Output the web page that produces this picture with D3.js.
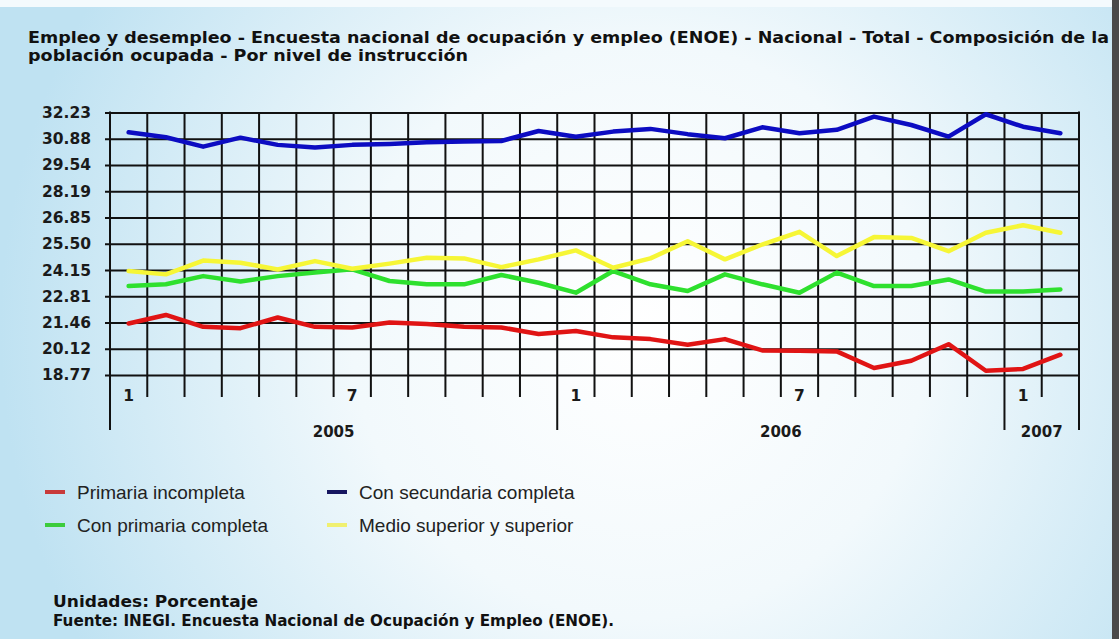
<!DOCTYPE html>
<html><head><meta charset="utf-8">
<script src="https://cdn.jsdelivr.net/npm/d3@7"></script>
<style>html,body{margin:0;padding:0;overflow:hidden;background:#fff;} svg{display:block;}</style>
</head><body>
<svg id="chart" width="1119" height="639"></svg>
<script>
// ---- data ----
const months = ["1","2","3","4","5","6","7","8","9","10","11","12",
                "1","2","3","4","5","6","7","8","9","10","11","12",
                "1","2"];
const years = ["2005","2006","2007"];
const yearStart = [0, 12, 24];
const yearEnd = [11, 23, 25];
const yTicks = [18.77, 20.12, 21.46, 22.81, 24.15, 25.50, 26.85, 28.19, 29.54, 30.88, 32.23];

const primariaIncompleta = [21.41,21.85,21.24,21.17,21.72,21.24,21.21,21.46,21.38,21.24,21.21,20.87,21.03,20.70,20.61,20.32,20.61,20.03,20.01,19.98,19.13,19.50,20.35,18.99,19.08,19.81];
const conPrimaria = [23.33,23.42,23.84,23.56,23.84,24.02,24.19,23.59,23.42,23.42,23.90,23.50,22.99,24.10,23.42,23.08,23.93,23.42,22.99,24.02,23.33,23.33,23.67,23.05,23.05,23.16];
const conSecundaria = [31.22,30.96,30.48,30.94,30.57,30.43,30.57,30.62,30.71,30.74,30.77,31.28,30.99,31.25,31.39,31.12,30.91,31.47,31.17,31.34,32.02,31.59,30.99,32.14,31.50,31.17];
const medioSuperior = [24.10,23.93,24.64,24.53,24.18,24.61,24.22,24.48,24.78,24.75,24.30,24.70,25.16,24.27,24.75,25.63,24.70,25.46,26.11,24.87,25.84,25.80,25.12,26.06,26.45,26.06];

const seriesNames = ["Primaria incompleta","Con primaria completa","Con secundaria completa","Medio superior y superior"];
const seriesValues = [primariaIncompleta, conPrimaria, conSecundaria, medioSuperior];
const lineColors = ["#e01414","#2ee02e","#0c0cc2","#f6f636"];
const swatchColors = ["#c83a3a","#3ccc3c","#161660","#f0f070"];

const titleLines = ["Empleo y desempleo - Encuesta nacional de ocupación y empleo (ENOE) - Nacional - Total - Composición de la",
                    "población ocupada - Por nivel de instrucción"];
const footer = ["Unidades: Porcentaje","Fuente: INEGI. Encuesta Nacional de Ocupación y Empleo (ENOE)."];

// ---- layout ----
const W = 1119, H = 639;
const L = 110, R = 1079, T = 112.5, B = 375;
const svg = d3.select("#chart");
const BOLD = "'DejaVu Sans', Verdana, sans-serif";
const NORM = "'Liberation Sans', Arial, sans-serif";

// background
const defs = svg.append("defs");
const rg = defs.append("radialGradient").attr("id","bg")
  .attr("gradientUnits","userSpaceOnUse").attr("cx",640).attr("cy",330).attr("r",640)
  .attr("fx",640).attr("fy",330);
rg.append("stop").attr("offset","0%").attr("stop-color","#ffffff");
rg.append("stop").attr("offset","45%").attr("stop-color","#f2f9fc");
rg.append("stop").attr("offset","100%").attr("stop-color","#bfe2f2");
svg.append("rect").attr("width",W).attr("height",H).attr("fill","url(#bg)");
svg.append("rect").attr("x",0).attr("y",0).attr("width",W).attr("height",7).attr("fill","#f4fafd");
svg.append("rect").attr("x",1112).attr("y",0).attr("width",7).attr("height",H).attr("fill","#4a4a4a");

// title
titleLines.forEach((t,i)=>{
  svg.append("text").attr("x",28).attr("y",43 + i*18)
    .attr("font-family",BOLD).attr("font-weight","bold").attr("font-size",15)
    .attr("fill","#111")
    .attr("textLength", i===0 ? 1081 : 440).attr("lengthAdjust","spacingAndGlyphs")
    .text(t);
});

// scales
const x = d3.scaleBand().domain(d3.range(months.length)).range([L,R]);
const y = d3.scaleLinear().domain([yTicks[0], yTicks[yTicks.length-1]]).range([B,T]);
const cx = i => x(i) + x.bandwidth()/2;

// y axis with gridlines
const yAxis = svg.append("g").attr("transform",`translate(${L-5},0)`)
  .call(d3.axisLeft(y).tickValues(yTicks).tickSizeInner(-(R-L+5)).tickSizeOuter(0).tickPadding(14)
        .tickFormat(d=>d.toFixed(2)));
yAxis.select(".domain").remove();
yAxis.selectAll(".tick line").attr("stroke","#111").attr("stroke-width",2);
yAxis.selectAll(".tick text").attr("font-family",BOLD).attr("font-weight","bold")
  .attr("font-size",15.5).attr("fill","#1a1a1a");

// vertical gridlines (band boundaries)
const bounds = d3.range(1, months.length);
svg.append("g").selectAll("line").data(bounds).join("line")
  .attr("x1",d=>x(d)).attr("x2",d=>x(d))
  .attr("y1",T).attr("y2",d=> yearStart.includes(d) ? 430 : 397)
  .attr("stroke","#111").attr("stroke-width",2);
// left & right frame lines
svg.append("line").attr("x1",L).attr("x2",L).attr("y1",T-1).attr("y2",430).attr("stroke","#111").attr("stroke-width",2);
svg.append("line").attr("x1",R).attr("x2",R).attr("y1",T-1).attr("y2",430).attr("stroke","#111").attr("stroke-width",2);

// x axis month labels
const xAxis = svg.append("g").attr("transform",`translate(0,${B})`)
  .call(d3.axisBottom(x).tickSize(0).tickPadding(16)
        .tickFormat(i => (months[i]==="1"||months[i]==="7") ? months[i] : ""));
xAxis.select(".domain").remove();
xAxis.selectAll(".tick text").attr("font-family",BOLD).attr("font-weight","bold")
  .attr("font-size",15.5).attr("fill","#1a1a1a").attr("dy",null).attr("y",26);

// year labels
svg.append("g").selectAll("text").data(years).join("text")
  .attr("x",(d,i)=> (x(yearStart[i]) + x(yearEnd[i]) + x.bandwidth())/2)
  .attr("y",437).attr("text-anchor","middle")
  .attr("font-family",BOLD).attr("font-weight","bold").attr("font-size",15).attr("fill","#1a1a1a")
  .text(d=>d);

// lines
const line = d3.line().x((d,i)=>cx(i)).y(d=>y(d));
svg.append("g").selectAll("path").data(seriesValues).join("path")
  .attr("d",line).attr("fill","none")
  .attr("stroke",(d,i)=>lineColors[i]).attr("stroke-width",4.5)
  .attr("stroke-linejoin","round").attr("stroke-linecap","round");

// legend
const legPos = [[45,492],[45,525],[327,492],[327,525]];
const leg = svg.append("g").selectAll("g").data(seriesNames).join("g")
  .attr("transform",(d,i)=>`translate(${legPos[i][0]},${legPos[i][1]})`);
leg.append("line").attr("x1",0).attr("x2",20).attr("y1",0).attr("y2",0)
  .attr("stroke",(d,i)=>swatchColors[i]).attr("stroke-width",4);
leg.append("text").attr("x",32).attr("y",7)
  .attr("font-family",NORM).attr("font-size",19).attr("fill","#222").text(d=>d);

// footer
const footerW = [205, 561];
footer.forEach((t,i)=>{
  svg.append("text").attr("x",53).attr("y",607 + i*19)
    .attr("font-family",BOLD).attr("font-weight","bold").attr("font-size",15.5).attr("fill","#111")
    .attr("textLength",footerW[i]).attr("lengthAdjust","spacingAndGlyphs")
    .text(t);
});
</script>
</body></html>
